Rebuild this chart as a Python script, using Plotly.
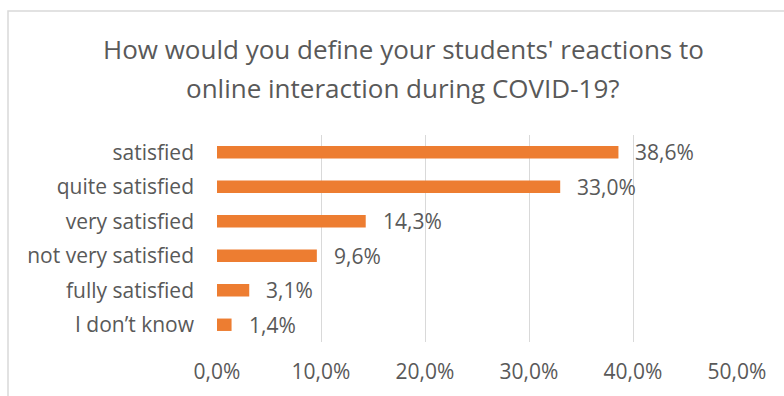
import plotly.graph_objects as go

categories = ["satisfied", "quite satisfied", "very satisfied", "not very satisfied", "fully satisfied", "I don\u2019t know"]
values = [38.6, 33.0, 14.3, 9.6, 3.1, 1.4]
tick_vals = [0, 10, 20, 30, 40, 50]
tick_text = ["0,0%", "10,0%", "20,0%", "30,0%", "40,0%", "50,0%"]
title_lines = ["How would you define your students' reactions to",
               "online interaction during COVID-19?"]

FONT = "Open Sans"
GREY = "#595959"

W, H = 784, 396
L, R, T, B = 217, 47, 135, 54
PH = H - T - B
PW = W - L - R

def fmt(v):
    return f"{v:.1f}".replace(".", ",") + "%"

def py(y):
    return (H - B - y) / PH

def px(x):
    return (x - L) / PW

fig = go.Figure()
fig.add_trace(go.Bar(
    x=values, y=categories, orientation="h",
    marker=dict(color="#ED7D31", line=dict(width=0)),
    width=0.36, hoverinfo="skip",
))

for c, v in zip(categories, values):
    fig.add_annotation(x=v, y=c, xref="x", yref="y", text=fmt(v), showarrow=False,
                       xanchor="left", xshift=15, font=dict(family=FONT, size=21, color=GREY))

for line, yc in zip(title_lines, [49, 88]):
    fig.add_annotation(x=px(403), y=py(yc), xref="paper", yref="paper", text=line,
                       showarrow=False, xanchor="center", yanchor="middle",
                       font=dict(family=FONT, size=26, color=GREY))

fig.update_layout(
    width=W, height=H,
    margin=dict(l=L, r=R, t=T, b=B),
    paper_bgcolor="white", plot_bgcolor="white",
    showlegend=False,
    xaxis=dict(range=[0, 50], tickvals=tick_vals, ticktext=tick_text,
               showgrid=True, gridcolor="#d9d9d9", gridwidth=1, zeroline=False,
               showline=False, ticks="", ticklabelstandoff=15,
               tickfont=dict(family=FONT, size=21, color=GREY), fixedrange=True),
    yaxis=dict(autorange="reversed", showgrid=False, zeroline=False, showline=False,
               ticks="", ticklabelstandoff=22,
               tickfont=dict(family=FONT, size=21, color=GREY)),
    shapes=[dict(type="rect", xref="paper", yref="paper",
                 x0=px(8), x1=px(810), y0=py(420), y1=py(11),
                 line=dict(color="#d9d9d9", width=1.5), layer="below")],
)

fig.write_html("out.html")
